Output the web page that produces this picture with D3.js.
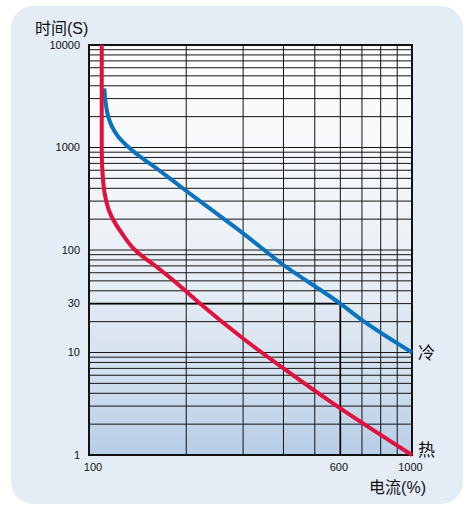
<!DOCTYPE html>
<html>
<head>
<meta charset="utf-8">
<script src="https://cdn.jsdelivr.net/npm/d3@7"></script>
<style>
  html, body { margin: 0; padding: 0; background: #ffffff; }
  svg { display: block; }
  text { font-family: "Liberation Sans", Arial, "Noto Sans CJK SC", sans-serif; fill: #111; }
</style>
</head>
<body>
<svg id="chart" width="466" height="506"></svg>
<script>
// Time–current characteristic: trip time (s) versus current (% of rated), log–log.
const yTitle = "时间(S)";
const xTitle = "电流(%)";

const yTickValues = [1, 10, 30, 100, 1000, 10000];
const xTickValues = [100, 600, 1000];

// Cold-start curve (冷)
const coldName = "冷";
const coldCurrent = [111.5, 114.7, 123.2, 135.6, 165.9, 198.3, 228.6, 300, 400, 600, 699, 1000];
const coldTime    = [3780, 2000, 1275, 945, 590, 385, 275, 145.5, 71.4, 30, 20.8, 10];

// Hot-start curve (热)
const hotName = "热";
const hotCurrent = [109.5, 109.5, 110.7, 117.5, 126.2, 138.8, 165.9, 191.3, 220.6, 300, 400, 600, 1000];
const hotTime    = [10000, 945, 450, 211, 146.5, 100, 64.5, 44.5, 30.1, 13.7, 7.0, 2.85, 1.0];

// Reference point marked on the grid
const refCurrent = 600;
const refTime = 30;

const svg = d3.select("#chart");
const plot = { left: 89, right: 412, top: 45, bottom: 455 };

const x = d3.scaleLog().domain([100, 1000]).range([plot.left, plot.right]);
const y = d3.scaleLog().domain([1, 10000]).range([plot.bottom, plot.top]);

// panel background
svg.append("rect")
  .attr("x", 11).attr("y", 6)
  .attr("width", 452).attr("height", 498)
  .attr("rx", 22).attr("ry", 22)
  .attr("fill", "#e4ecf6");

// plot area gradient
const defs = svg.append("defs");
const grad = defs.append("linearGradient")
  .attr("id", "plotFill").attr("x1", 0).attr("y1", 0).attr("x2", 0).attr("y2", 1);
[[0, "#fdfeff"], [0.35, "#f3f6f9"], [0.6, "#e5ecf4"], [0.8, "#d2e0ee"], [1, "#b7cee7"]]
  .forEach(([o, c]) => grad.append("stop").attr("offset", o).attr("stop-color", c));

svg.append("rect")
  .attr("x", plot.left).attr("y", plot.top)
  .attr("width", plot.right - plot.left).attr("height", plot.bottom - plot.top)
  .attr("fill", "url(#plotFill)");

// grid lines: every log minor step
const yGrid = [];
for (let p = 0; p < 4; p++) for (let m = 1; m <= 9; m++) yGrid.push(m * Math.pow(10, p));
yGrid.push(10000);
const xGrid = d3.range(100, 1001, 100);

const grid = svg.append("g").attr("stroke", "#141414").attr("stroke-width", 1);
grid.selectAll("line.h").data(yGrid).join("line").attr("class", "h")
  .attr("x1", plot.left).attr("x2", plot.right)
  .attr("y1", d => y(d)).attr("y2", d => y(d));
grid.selectAll("line.v").data(xGrid).join("line").attr("class", "v")
  .attr("x1", d => x(d)).attr("x2", d => x(d))
  .attr("y1", plot.top).attr("y2", plot.bottom);

// reference lines to the 600% / 30 s point
const ref = svg.append("g").attr("stroke", "#000").attr("stroke-width", 1.6);
ref.append("line")
  .attr("x1", plot.left).attr("x2", x(refCurrent))
  .attr("y1", y(refTime)).attr("y2", y(refTime));
ref.append("line")
  .attr("x1", x(refCurrent)).attr("x2", x(refCurrent))
  .attr("y1", y(refTime)).attr("y2", plot.bottom);

// frame
svg.append("rect")
  .attr("x", plot.left).attr("y", plot.top)
  .attr("width", plot.right - plot.left).attr("height", plot.bottom - plot.top)
  .attr("fill", "none").attr("stroke", "#111").attr("stroke-width", 2);

// curves: time decreases monotonically, so interpolate along the vertical axis
const line = d3.line()
  .x(d => x(d[0])).y(d => y(d[1]))
  .curve(d3.curveMonotoneY);

svg.append("path")
  .datum(d3.zip(coldCurrent, coldTime))
  .attr("d", line)
  .attr("fill", "none").attr("stroke", "#0a73bf").attr("stroke-width", 4);

svg.append("path")
  .datum(d3.zip(hotCurrent, hotTime))
  .attr("d", line)
  .attr("fill", "none").attr("stroke", "#e2103c").attr("stroke-width", 4);

// y tick labels
svg.append("g").selectAll("text").data(yTickValues).join("text")
  .attr("x", 80).attr("y", d => y(d))
  .attr("dy", "0.35em")
  .attr("text-anchor", "end")
  .attr("font-size", 11)
  .text(d => d);

// x tick labels
svg.append("g").selectAll("text").data(xTickValues).join("text")
  .attr("x", (d, i) => x(d) + (i === 0 ? 4 : -1.5))
  .attr("y", 471)
  .attr("text-anchor", "middle")
  .attr("font-size", 11)
  .text(d => d);

// axis titles
svg.append("text")
  .attr("x", 35).attr("y", 34)
  .attr("font-size", 16)
  .text(yTitle);

svg.append("text")
  .attr("x", 426).attr("y", 493)
  .attr("text-anchor", "end")
  .attr("font-size", 16)
  .text(xTitle);

// series labels at the curve ends
svg.append("text")
  .attr("x", 418).attr("y", y(coldTime[coldTime.length - 1]))
  .attr("dy", "0.36em")
  .attr("font-size", 17)
  .text(coldName);

svg.append("text")
  .attr("x", 418).attr("y", y(hotTime[hotTime.length - 1]) - 5)
  .attr("dy", "0.36em")
  .attr("font-size", 17)
  .text(hotName);
</script>
</body>
</html>
